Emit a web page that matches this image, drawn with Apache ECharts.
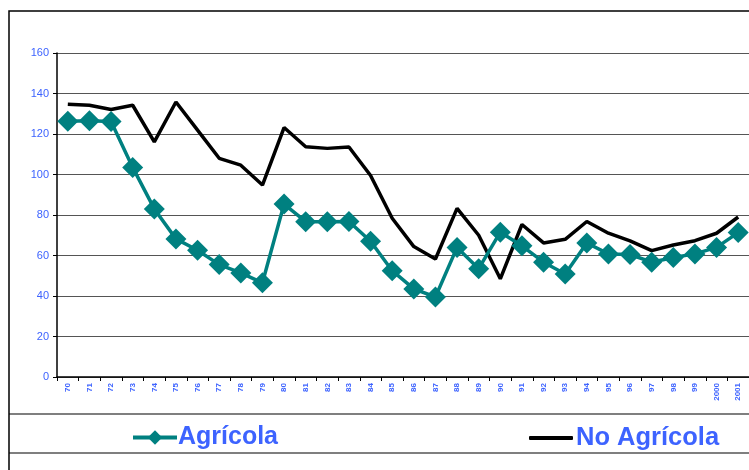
<!DOCTYPE html>
<html><head><meta charset="utf-8">
<script src="https://cdn.jsdelivr.net/npm/echarts@6/dist/echarts.min.js"></script>
<style>html,body{margin:0;padding:0;background:#fff}#c{width:749px;height:470px}</style>
</head><body><div id="c"></div>
<script>
var categories = ['70','71','72','73','74','75','76','77','78','79','80','81','82','83','84','85','86','87','88','89','90','91','92','93','94','95','96','97','98','99','2000','2001'];
var agricola = [126.3,126.5,126.2,103.5,83,68.2,62.6,55.5,51.4,46.5,85.4,76.7,76.7,76.8,67,52.5,43.5,39.5,64,53.5,71.5,64.8,56.7,50.9,66.2,60.8,60.5,56.7,59,60.8,64,71.3];
var noAgricola = [134.7,134.2,132.1,134.2,116.1,135.8,121.9,108,104.6,94.8,123.2,113.7,112.9,113.6,99.5,78.4,64.4,58.3,83.3,70,48.5,75.3,66.2,68,76.8,71,67.2,62.4,65.2,67.3,71,79];
var yMin = 0, yMax = 160, yStep = 20;

var blue = '#3d63ff';
var font = 'Liberation Sans, Arial, sans-serif';
var chart = echarts.init(document.getElementById('c'));
chart.setOption({
  animation: false,
  backgroundColor: '#fff',
  grid: {left: 57, right: -5, top: 53, bottom: 93},
  graphic: [
    {type: 'rect', shape: {x: 9, y: 11, width: 800, height: 500}, style: {fill: 'none', stroke: '#000', lineWidth: 1.5}, z: -1},
    {type: 'line', shape: {x1: 9, y1: 414, x2: 760, y2: 414}, style: {stroke: '#000', lineWidth: 1.2}},
    {type: 'line', shape: {x1: 9, y1: 453, x2: 760, y2: 453}, style: {stroke: '#000', lineWidth: 1.2}}
  ],
  legend: [
    {data: ['Agrícola'], left: 126, top: 420, itemWidth: 44, itemHeight: 18, itemGap: 4,
     lineStyle: {width: 4},
     textStyle: {color: blue, fontSize: 25, fontWeight: 'bold', fontFamily: font, padding: [0,0,0,-4]}},
    {data: [{name: 'No Agrícola', icon: 'roundRect'}], left: 524, top: 420, itemWidth: 44, itemHeight: 4, itemGap: 4,
     textStyle: {color: blue, fontSize: 25.5, fontWeight: 'bold', fontFamily: font, padding: [0,0,0,-2]}}
  ],
  xAxis: {
    type: 'category', data: categories, boundaryGap: true,
    axisLine: {lineStyle: {color: '#000', width: 1.5}},
    axisTick: {show: true, length: 4, inside: false, lineStyle: {color: '#000'}},
    axisLabel: {rotate: 90, interval: 0, margin: 6, color: blue, fontSize: 8, fontWeight: 'bold', fontFamily: font},
    splitLine: {show: false}
  },
  yAxis: {
    type: 'value', min: yMin, max: yMax, interval: yStep,
    axisLine: {show: true, lineStyle: {color: '#000', width: 1.5}},
    axisTick: {show: true, length: 4, lineStyle: {color: '#000'}},
    axisLabel: {color: blue, fontSize: 11, margin: 8, fontFamily: font},
    splitLine: {show: true, lineStyle: {color: '#555', width: 1}}
  },
  series: [
    {name: 'Agrícola', type: 'line', data: agricola, symbol: 'diamond', symbolSize: 21, showAllSymbol: true,
     lineStyle: {color: '#008080', width: 3.5}, itemStyle: {color: '#008080'}, z: 3},
    {name: 'No Agrícola', type: 'line', data: noAgricola, symbol: 'none',
     lineStyle: {color: '#000', width: 3.5}, itemStyle: {color: '#000'}, z: 2}
  ]
});
</script></body></html>
